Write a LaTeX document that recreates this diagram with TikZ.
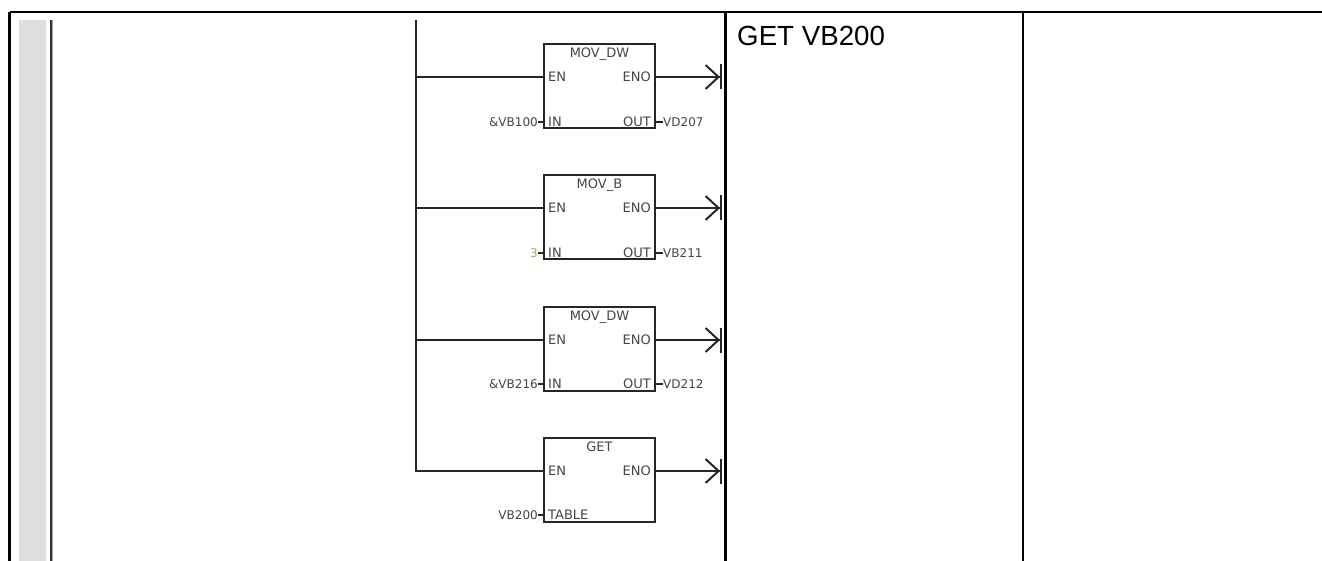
\documentclass[tikz,border=0pt]{standalone}
\usepackage{fontspec}
\setmainfont{Liberation Sans}
\newfontfamily\plcfont{DejaVu Sans}
\usetikzlibrary{arrows.meta, positioning}
\definecolor{stripgray}{HTML}{DEDEDE}
\definecolor{plctext}{HTML}{444444}
\definecolor{constcol}{HTML}{A8A860}

\begin{document}
\begin{tikzpicture}[x=1pt,y=-1pt,
    grid line/.style={line width=2.2pt,black},
    wire/.style={line width=2pt,draw=black!85},
    rung/.style={wire,-{Straight Barb[length=13pt,width=24pt,sep=0pt]Bar[width=25pt]}},
    fbox/.style={draw=black!85,line width=2pt,minimum width=111pt,minimum height=84pt,inner sep=0pt,outer sep=0pt},
    plc/.style={font=\plcfont\fontsize{13}{13}\selectfont,text=plctext,inner sep=0pt},
    pinl/.style={plc,anchor=west},
    pinr/.style={plc,anchor=east},
    vall/.style={plc,font=\plcfont\fontsize{12}{12}\selectfont,anchor=east},
    valr/.style={plc,font=\plcfont\fontsize{12}{12}\selectfont,anchor=west}]
    \useasboundingbox (0,0) rectangle (1322,561);

    % table rules
    \coordinate (tl) at (9.5,12);
    \coordinate (tr) at (1322,12);
    \coordinate (bl) at (9.5,561);
    \draw[grid line] (tl) -- (tr) (tl) -- (bl);
    \draw[grid line] (725.5,12) -- (725.5,561);
    \draw[grid line] (1023,12) -- (1023,561);

    % margin of the ladder editor
    \fill[stripgray] (19,20) rectangle (46,561);
    \fill[black!35] (49.7,20) rectangle (53.3,561);
    \fill[black!80] (50.3,20) rectangle (52,561);

    \coordinate (railtop) at (415.5,20);
    \node[fbox] (box1) at (599.5,86) {};
    \node[fbox] (box2) [below=47pt of box1] {};
    \node[fbox] (box3) [below=48pt of box2] {};
    \node[fbox] (box4) [below=47pt of box3] {};

    \node[plc,below=4pt of box1.north] (title1) {MOV\_DW};
    \node[plc,below=4pt of box2.north] (title2) {MOV\_B};
    \node[plc,below=4pt of box3.north] (title3) {MOV\_DW};
    \node[plc,below=4pt of box4.north] (title4) {GET};

    \node[pinl] (en1) at ([shift={(4,33)}]box1.north west) {EN};
    \node[pinr] (eno1) at ([shift={(-4,33)}]box1.north east) {ENO};
    \node[pinl] (in1) at ([shift={(4,78)}]box1.north west) {IN};
    \node[pinr] (out1) at ([shift={(-4,78)}]box1.north east) {OUT};
    \node[vall] (val1) at ([shift={(-6,78)}]box1.north west) {\&VB100};
    \node[valr] (res1) at ([shift={(8,78)}]box1.north east) {VD207};

    \node[pinl] (en2) at ([shift={(4,33)}]box2.north west) {EN};
    \node[pinr] (eno2) at ([shift={(-4,33)}]box2.north east) {ENO};
    \node[pinl] (in2) at ([shift={(4,78)}]box2.north west) {IN};
    \node[pinr] (out2) at ([shift={(-4,78)}]box2.north east) {OUT};
    \node[vall,text=constcol] (val2) at ([shift={(-6,78)}]box2.north west) {3};
    \node[valr] (res2) at ([shift={(8,78)}]box2.north east) {VB211};

    \node[pinl] (en3) at ([shift={(4,33)}]box3.north west) {EN};
    \node[pinr] (eno3) at ([shift={(-4,33)}]box3.north east) {ENO};
    \node[pinl] (in3) at ([shift={(4,77)}]box3.north west) {IN};
    \node[pinr] (out3) at ([shift={(-4,77)}]box3.north east) {OUT};
    \node[vall] (val3) at ([shift={(-6,77)}]box3.north west) {\&VB216};
    \node[valr] (res3) at ([shift={(8,77)}]box3.north east) {VD212};

    \node[pinl] (en4) at ([shift={(4,33)}]box4.north west) {EN};
    \node[pinr] (eno4) at ([shift={(-4,33)}]box4.north east) {ENO};
    \node[pinl] (in4) at ([shift={(4,77)}]box4.north west) {TABLE};
    \node[vall] (val4) at ([shift={(-6,77)}]box4.north west) {VB200};

    \coordinate (end1) at (722,0 |- en1);
    \coordinate (end2) at (722,0 |- en2);
    \coordinate (end3) at (722,0 |- en3);
    \coordinate (end4) at (722,0 |- en4);

    % rail and its rungs
    \draw[wire] (railtop) |- (en4 -| box4.west);
    \path[wire]
      (railtop |- en1) edge (en1 -| box1.west)
      (railtop |- en2) edge (en2 -| box2.west)
      (railtop |- en3) edge (en3 -| box3.west);
    \draw[rung] (eno1 -| box1.east) -- (end1);
    \draw[rung] (eno2 -| box2.east) -- (end2);
    \draw[rung] (eno3 -| box3.east) -- (end3);
    \draw[rung] (eno4 -| box4.east) -- (end4);

    \path[wire]
      (val1.east) edge (in1 -| box1.west)
      (val2.east) edge (in2 -| box2.west)
      (val3.east) edge (in3 -| box3.west)
      (val4.east) edge (in4 -| box4.west)
      (res1.west) edge (out1 -| box1.east)
      (res2.west) edge (out2 -| box2.east)
      (res3.west) edge (out3 -| box3.east);

    \node[anchor=west,inner sep=0pt,font=\fontsize{27.7}{28}\selectfont] (note) at (737,36) {GET VB200};
\end{tikzpicture}
\end{document}
